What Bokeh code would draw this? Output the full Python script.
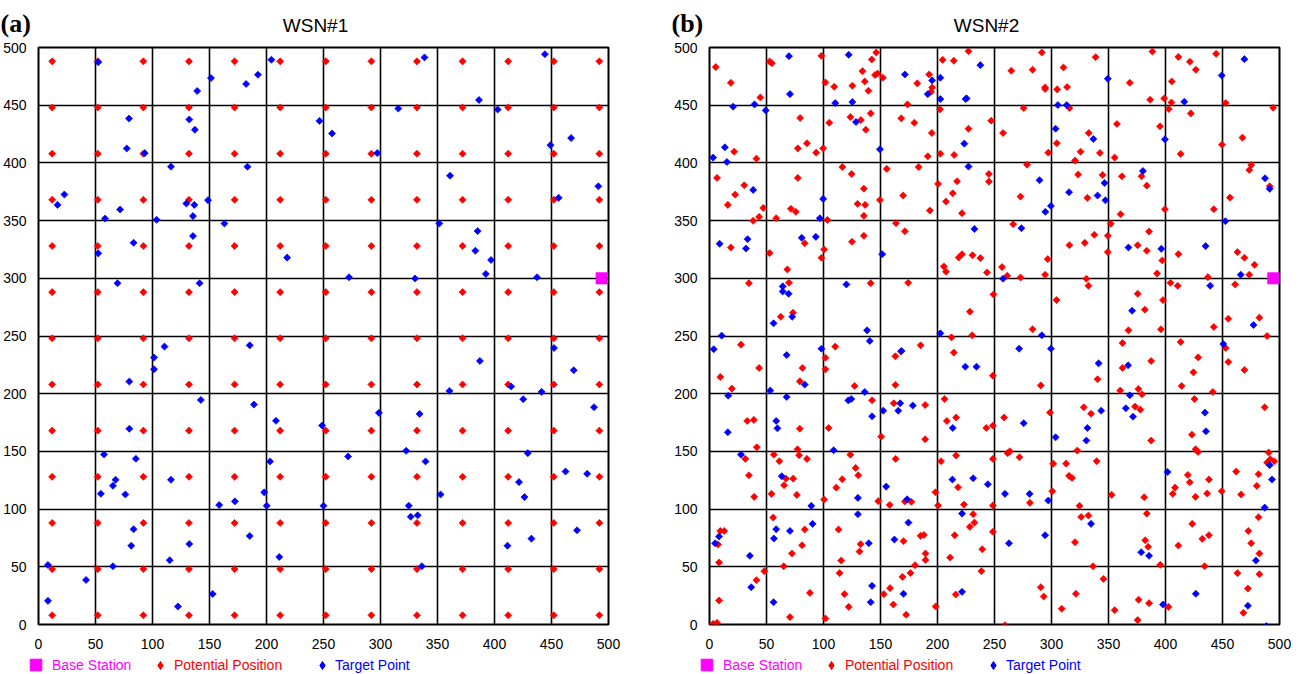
import math
from bokeh.plotting import figure
from bokeh.models import Range1d, Legend, LegendItem, Label, FixedTicker
from bokeh.layouts import row, column
from bokeh.embed import file_html
from bokeh.resources import INLINE

# ---------------- data ----------------
ticks = [0, 50, 100, 150, 200, 250, 300, 350, 400, 450, 500]
titles = ["WSN#1", "WSN#2"]
tags = ["(a)", "(b)"]
legend_labels = ["Base Station", "Potential Position", "Target Point"]

base_station_1 = (494, 300)
base_station_2 = (494.5, 300)

# WSN#1: potential positions form a regular lattice
grid_x = [12, 52, 92, 132, 172, 212, 252, 292, 332, 372, 412, 452, 492]
grid_y = [8, 48, 88, 128, 168, 208, 248, 288, 328, 368, 408, 448, 488]

wsn1_targets = [
    (52.4, 487.3), (204.3, 489.4), (151.3, 473.5), (139.2, 462.3), (192.5, 476.4), (182.1, 468.4),
    (79.4, 438.4), (132.3, 437.6), (137.2, 428.7), (77.4, 412.5), (93.2, 408.5), (246.5, 436.4),
    (257.5, 425.5), (116.2, 396.7), (183.3, 396.7), (22.7, 372.6), (16.7, 363.6), (129.7, 364.8),
    (136.7, 363.6), (148.7, 367.7), (71.6, 359.6), (58.4, 351.8), (103.6, 350.7), (135.5, 353.9),
    (163.1, 347.5), (135.5, 336.6), (83.4, 330.8), (52.4, 321.6), (218.1, 317.9), (69.3, 295.7),
    (141.3, 295.7),
    (338.6, 491.4), (444.2, 494.2), (386.4, 454.5), (315.6, 447.1), (402.8, 446.2), (297.2, 408.5),
    (449.1, 415.4), (467.2, 421.5), (361.0, 388.9), (491.1, 379.7), (456.3, 369.7), (351.6, 347.5),
    (385.2, 340.9), (383.2, 323.9), (397.0, 315.9), (392.4, 303.8), (272.4, 300.9), (330.3, 299.8),
    (437.3, 300.9),
    (110.5, 240.8), (101.3, 231.3), (101.3, 221.2), (79.7, 210.5), (185.3, 241.9), (142.4, 194.6),
    (189.0, 190.6), (208.3, 176.5), (248.8, 172.4), (79.7, 169.6), (57.5, 147.3), (85.4, 143.6),
    (67.6, 125.4), (65.3, 120.2), (54.7, 113.3), (76.2, 112.7), (116.2, 125.4), (203.1, 141.3),
    (198.0, 114.5), (158.5, 103.5), (172.3, 106.7), (200.2, 102.9), (250.0, 102.9), (83.4, 82.5),
    (81.4, 68.3), (132.3, 69.8), (185.3, 76.7), (115.1, 55.7), (211.2, 58.5), (8.3, 51.6),
    (65.3, 50.5), (41.7, 38.6), (8.3, 20.5), (152.8, 26.5), (122.3, 15.6),
    (452.2, 239.6), (387.2, 228.4), (469.5, 220.3), (414.6, 206.2), (360.5, 202.4), (441.3, 201.6),
    (425.2, 195.2), (487.3, 188.3), (298.6, 183.4), (334.3, 182.5), (271.6, 145.6), (322.5, 150.5),
    (339.5, 141.3), (429.2, 148.5), (462.3, 132.6), (481.3, 130.6), (421.5, 123.4), (426.3, 110.4),
    (352.7, 112.7), (324.8, 102.9), (326.5, 93.4), (332.6, 94.6), (472.4, 81.6), (432.4, 74.4),
    (411.4, 68.3), (336.3, 50.5),
]

wsn2_potential = [
    (5.5, 483), (18.7, 469.4), (44.6, 456.7), (52.7, 487.9), (54.7, 486.4), (98.2, 492.8), (101.7, 469.7),
    (109.4, 466), (125.3, 466.8), (134.2, 479.5), (136.2, 470.6), (139.4, 462.5), (142.3, 489.6),
    (146.3, 495.7), (145.2, 476.1), (147.5, 477.5), (152.1, 473.8), (182.3, 468.9), (192.7, 476.6),
    (195.3, 465.4), (194.4, 461.6), (204.5, 489.3), (214.3, 488.5), (227.2, 496.8),
    (79.5, 438.9), (173.7, 450.7), (202.2, 446.4), (105.1, 434.8), (123.6, 439.7), (132.8, 437.1),
    (141.4, 442.9), (137.1, 428.8), (168.2, 438.6), (179.7, 434.8), (195, 425.9), (227.2, 429.6),
    (247.1, 436.6), (77.5, 412.6), (85.5, 417), (93.6, 408.9), (99.7, 412.6), (21.6, 409.7),
    (41.2, 403.7), (191.5, 405.7), (202.5, 408), (214.6, 406.9),
    (6.6, 387), (30.5, 380.6), (22.5, 372.5), (16.1, 363.6), (47.2, 361), (43.5, 353.2), (38.3, 349.8),
    (58.5, 352.1), (77.5, 387), (71.4, 360.2), (75.7, 357.6), (116.6, 396.5), (124.7, 390.4),
    (135.4, 377.7), (129.9, 364.5), (136.5, 363.6), (135.4, 354.1), (149.5, 367.9), (155.5, 394.8),
    (169.9, 371.7), (183.5, 396.5), (193.3, 358.7), (200.5, 381.8), (207.4, 366.5), (213.4, 373.7),
    (217.2, 384.1), (221.5, 356.4), (245.1, 390.4), (245.1, 383.8), (103.4, 350.6),
    (18.7, 326.7), (52.7, 321.8), (68.3, 307.7), (83.5, 330.4), (100.5, 325), (98.2, 317.8),
    (125, 331.6), (135.4, 336.8), (163.6, 347.8), (171.4, 340.8), (205.6, 310.3), (207.4, 305.7),
    (218.6, 318), (221.5, 320.9), (230.7, 320), (237.6, 317.5), (243.4, 305.1),
    (34.6, 295.8), (69.7, 296.1), (62.5, 266.7), (73.2, 270.2), (141.4, 295.8), (174.3, 296.1),
    (249.1, 286), (228.4, 271), (212.3, 248.8), (230.4, 250.6),
    (27.6, 242.5), (43.5, 222.3), (9.5, 214.5), (19.6, 204.4), (110.3, 240.8), (101.7, 231.2),
    (101.7, 221.1), (81.5, 222.3), (79.2, 210.7), (127.3, 206.7), (163, 232.4), (167.9, 236.7),
    (163, 207.6), (185.2, 241.9), (214.3, 235.6), (248.6, 215.6),
    (33.1, 176.4), (38.9, 177.3), (41.5, 153.6), (79.2, 169.7), (77.2, 151.8), (104.5, 170.3),
    (142.6, 194.3), (161.6, 191.7), (189.2, 190.2), (150.6, 162.8), (189.2, 160.5), (206.2, 195.4),
    (208.2, 176.4), (216.3, 179.3), (242.8, 170.3), (248.6, 172.3),
    (31.4, 143.5), (34.6, 129.3), (39.2, 110.6), (56.5, 147.2), (61.3, 141.5), (67.1, 126.4),
    (65.4, 120.7), (73.4, 126.4), (54.4, 113.2), (76.6, 112.3), (78.6, 146.7), (85.5, 143.5),
    (100.5, 108.3), (123.6, 147.2), (128.2, 135.7), (130.5, 129.3), (116.4, 125.9), (111.2, 118.6),
    (148, 106.9), (158.1, 103.6), (163.3, 143.5), (171.4, 106.6), (177.1, 106.3), (198.2, 114.6),
    (200.5, 103.1), (203.1, 141.5), (216.3, 146.4), (218, 118.9), (223.2, 103.9), (248.6, 143.5),
    (248.6, 103.1),
    (9.5, 81.1), (12.9, 81.1), (7.5, 69.3), (8.4, 53.7), (55.9, 92.7), (83.5, 82.3), (81.2, 68.7),
    (72.3, 61.5), (65.1, 50.5), (113.2, 82.3), (132.5, 69.6), (131.6, 63.2), (115.5, 55.4),
    (170.2, 72.2), (185.2, 76.8), (188.1, 77.6), (189.5, 61.5), (189.5, 56), (180.3, 51.4),
    (215.1, 77.4), (211.1, 58), (231.3, 95.6), (232.4, 88.3), (228.4, 84.6), (239.3, 65.2),
    (248.6, 80.3),
    (48.1, 46.2), (41.2, 38.4), (8.4, 20.8), (3.2, 0.6), (6.6, 1.4), (88.1, 27.4), (70.6, 6.4),
    (101.7, 5.2), (114.1, 44.5), (118.4, 26.3), (122.1, 15.3), (152.9, 26.3), (158.4, 31.5),
    (161.3, 17.3), (169.3, 41.3), (176.3, 44.7), (172.5, 8.4), (198.4, 15.6), (216, 26), (238.5, 46.2),
    (291.5, 495.7), (264.7, 479.8), (283.4, 480.7), (294.4, 465.4), (294.4, 464), (305, 463.7),
    (310.5, 482.7), (313.7, 465.7), (338.7, 491.6), (368.7, 469.4), (388.5, 496.5), (386.5, 454.7),
    (398.9, 455.9), (405.2, 452.4), (402.9, 446.7), (405.5, 470.6), (411.3, 491.9), (421.4, 487.6),
    (426.6, 480.7), (444.4, 494.5), (452.8, 451.8),
    (275.6, 447.5), (315.7, 447.5), (257.5, 425.9), (332.7, 425.9), (304.7, 417), (297.2, 408.9),
    (325.5, 409.7), (342.5, 408.6), (320.6, 402), (355.4, 404.6), (357.4, 433.7), (395.2, 431.7),
    (422.2, 442.9), (413.3, 407.7), (449.6, 415.8), (467.5, 421.9), (494.5, 447.8),
    (278.5, 398.5), (272.8, 370.8), (323.4, 389.9), (344.8, 389.6), (331.5, 369.7), (360.6, 355.5),
    (361.8, 388.4), (379, 388.4), (383.6, 380.3), (399.5, 359.9), (442.4, 359.9), (456.5, 369.9),
    (475.2, 398.2), (473.5, 393.9), (491.4, 379.8),
    (266.4, 346.9), (315.7, 328.7), (329.2, 330.7), (337.6, 337.7), (349.4, 336.8), (352, 347.2),
    (349.4, 322.7), (296.7, 316.6), (256.6, 309.7), (261.2, 302.2), (272.8, 300.7), (294.4, 303),
    (375.6, 328.7), (383.6, 323.8), (385.6, 340.5), (397.2, 315.5), (392.6, 304.2), (411.3, 320.9),
    (463.1, 322.7), (469.2, 317.8), (478.1, 311.7), (473.5, 303.1), (437.2, 301),
    (330.6, 299.6), (332.4, 293.5), (304.4, 281.1), (283.4, 255.8), (375.6, 286.6), (381.9, 272.8),
    (397.8, 281.1), (396, 255.8), (367.5, 254.9), (404.4, 296.1), (410.7, 293.5), (461.1, 294.7),
    (455.1, 265), (482.4, 265.9), (442.4, 257.8), (489.1, 250),
    (290.6, 207.2), (340.4, 212.5), (362.3, 243.9), (362.3, 222.3), (387.4, 228.3), (360.3, 202.7),
    (376.2, 204.1), (379.4, 199.5), (413.3, 244.8), (428.6, 231.5), (424.5, 218.5), (414.2, 206.7),
    (441.5, 201.5), (452.8, 239.6), (455.1, 227.5), (469.2, 220.6),
    (258.4, 179.3), (298.7, 183.7), (328.3, 188.2), (334.7, 182.7), (322.6, 150.7), (373.3, 188.8),
    (377.9, 186.2), (387.4, 159.4), (425.4, 195.4), (423.2, 164.5), (426.4, 151.8), (428.6, 149.5),
    (487, 188.2), (490.5, 149),
    (261.5, 148.4), (263.5, 150.1), (271.9, 144.9), (301.6, 139.4), (312.8, 139.4), (315.4, 128.8),
    (318, 127), (339.6, 141.5), (300.7, 115.5), (281.1, 105.4), (324.6, 102.8), (352.8, 112.3),
    (381.3, 110.3), (419.6, 129.6), (421.3, 123.3), (438.1, 125.6), (408.4, 118.6), (406.4, 113.2),
    (426.3, 110.6), (436.6, 113.5), (449.3, 115.5), (462, 132.5), (466.3, 112.6), (481.6, 130.2),
    (480.1, 120.1), (489.1, 140.3), (491.9, 143.2), (495.3, 141.5), (502.6, 127.6),
    (326, 93.2), (332.4, 94.4), (320.6, 71.3), (336.4, 50.5), (383.6, 96.1), (382.2, 73), (384.8, 67.3),
    (395.4, 51.7), (423.4, 87.2), (432.3, 74.2), (438.1, 77.4), (411.3, 68.4), (434.3, 50.5),
    (481.6, 93), (472.6, 81.1), (475.2, 70.4), (482.4, 61.5),
    (290.6, 32.3), (293.2, 24.2), (309, 13.6), (321.4, 26.6), (345.6, 39.5), (355.4, 12.4),
    (376.4, 21.4), (385.6, 18.5), (375.6, 3.8), (402.6, 15.3), (463.1, 44.5), (482.4, 43.6),
    (472.3, 31.2), (468.3, 10.1), (259.2, -0.6),
]

wsn2_targets = [
    (69.7, 492.5), (70.6, 459.6), (122.1, 493.7), (171.4, 476.6), (191.5, 459.6), (195.3, 471.5),
    (202.5, 473.8), (202.5, 455.3), (224.7, 455.3), (225.5, 455.9), (237.6, 484.7), (110.3, 451.8),
    (125.3, 452.7), (39.5, 450.7), (20.7, 448.7), (49.3, 445.5),
    (128.5, 435.4), (13.5, 413.5), (3.2, 404.6), (15.3, 400.8), (149.5, 411.8), (223.5, 416.7),
    (38.3, 376.6), (99.7, 368.8), (96.8, 352.1), (227.2, 396.8),
    (8.9, 329.9), (33.4, 333.9), (32, 325.8), (80.9, 335.1), (93.3, 335.9), (151.5, 320.9), (232.4, 342.8),
    (64.2, 293), (64.2, 288.6), (69.4, 286.6), (72.6, 266.7), (56.2, 261), (120.1, 294.7), (138.2, 254.9),
    (10.7, 250.3), (202.5, 252.3),
    (3.7, 238.5), (67.7, 233.5), (98.2, 239), (140.6, 245.7), (83.5, 207.9), (53.3, 202.7),
    (136.2, 201.5), (168.5, 237), (224.4, 223.4), (234.2, 223.4),
    (16.4, 198.3), (16.1, 166.6), (58.5, 176.4), (59.6, 170), (67.7, 197.2), (121.8, 194.2),
    (124.4, 195.4), (142.6, 180.4), (152.4, 185.3), (165.6, 185.3), (167.3, 191.7), (178.3, 189.7),
    (213.4, 170.3), (108.9, 151),
    (27.6, 147.2), (63.4, 128.5), (89.3, 102.8), (130.2, 109.7), (155, 119.5), (173.4, 108.5),
    (213.1, 125.6), (231.3, 126.7), (244.2, 121.5),
    (8.4, 76.2), (4.9, 70.4), (35.4, 59.5), (58.5, 82.6), (56.5, 74.5), (70.6, 81.1), (90.4, 87.2),
    (130.2, 95.6), (139.7, 70.4), (174.5, 88.3), (162.2, 73.6), (221.5, 96.1),
    (36.6, 32.3), (56.2, 19.3), (142.6, 33.5), (141.4, 19.3), (170.2, 26.6), (221.5, 28.3),
    (349.4, 472.9), (305.6, 450.1), (313.4, 450.1), (416.5, 453), (449.3, 475.8), (469.2, 489.9),
    (303.6, 429.6), (336.7, 420.7), (399.5, 420.4),
    (289.5, 385), (315.4, 374.6), (346.5, 382.6), (340.4, 371.7), (347.3, 367.6), (299.5, 362.7),
    (294.6, 357.6), (380.2, 393), (487.3, 386.7), (491.4, 377.5),
    (273.6, 343.4), (367.5, 326.7), (396.3, 325.5), (435.2, 327.9), (452.5, 349.5), (466, 303.1),
    (257.5, 299.6),
    (370.7, 271.9), (439.2, 293.5), (477.2, 259.5), (291.5, 250.6),
    (271.6, 239), (299.5, 239), (341.3, 226.3), (367.2, 224.6), (450.7, 243.1), (368.7, 198.6),
    (275.6, 174.4), (303.6, 162.2), (331.5, 170.3), (330.6, 159.4), (343.6, 185.3), (365.2, 187.4),
    (371.5, 180.1), (434.6, 183.6), (435.5, 167.4),
    (259.2, 113.2), (280.8, 113.2), (297.2, 107.4), (401.8, 132.2), (491.4, 138), (493.4, 125.6),
    (487, 101.3),
    (262.7, 70.4), (294.4, 77.4), (334.7, 87.2), (378.7, 62.6), (385.6, 59.5), (479.3, 55.4),
    (397.8, 17.3), (426.6, 26.6), (472.3, 16.2), (488.5, -1.4),
]

wsn1_potential = [(gx, gy) for gy in grid_y for gx in grid_x]

RED = "#FF0000"
BLUE = "#0000FF"
MAGENTA = "#FF00FF"
FONT = "Liberation Sans"

# ---------------- layout constants (pixels) ----------------
FRAME = 578
LEFT_B = 30
P1_RIGHT_B = 63
P2_RIGHT_B = 12
TOP_B = 8
BOTTOM_B = 26
HEADER_H = 39
STRIP_H = 22
LEG_MID = 8.5   # legend centre, measured up from the strip's bottom edge
P1_W = LEFT_B + FRAME + P1_RIGHT_B
P2_W = LEFT_B + FRAME + P2_RIGHT_B
TOTAL_W = P1_W + P2_W
PANEL_SHIFT = P1_W  # horizontal offset of the second panel


def make_panel(potential, targets, base, border_right, width):
    p = figure(width=width, height=TOP_B + FRAME + BOTTOM_B,
               x_range=Range1d(0, 500), y_range=Range1d(0, 500),
               output_backend="svg", toolbar_location=None,
               min_border_left=LEFT_B, min_border_right=border_right,
               min_border_top=TOP_B, min_border_bottom=BOTTOM_B,
               background_fill_color="white", border_fill_color="white")
    for ax in (p.xaxis[0], p.yaxis[0]):
        ax.ticker = FixedTicker(ticks=ticks)
        ax.major_tick_line_color = None
        ax.minor_tick_line_color = None
        ax.axis_line_color = None
        ax.major_label_text_font = FONT
        ax.major_label_text_font_size = "14px"
        ax.major_label_text_color = "black"
    p.xaxis.major_label_standoff = 8
    p.yaxis.major_label_standoff = 6
    p.grid.grid_line_color = "black"
    p.grid.grid_line_width = 1.6
    p.outline_line_color = "black"
    p.outline_line_width = 2

    px = [a for a, b in potential]
    py = [b for a, b in potential]
    tx = [a for a, b in targets]
    ty = [b for a, b in targets]
    p.scatter(px, py, marker="square", angle=math.pi / 4, size=5,
              fill_color=RED, line_color=RED, line_width=0.7)
    p.scatter(tx, ty, marker="square", angle=math.pi / 4, size=5,
              fill_color=BLUE, line_color=BLUE, line_width=0.7)
    p.scatter([base[0]], [base[1]], marker="square", size=11.5,
              fill_color=MAGENTA, line_color=MAGENTA, line_width=0.5)
    return p


p1 = make_panel(wsn1_potential, wsn1_targets, base_station_1, P1_RIGHT_B, P1_W)
p2 = make_panel(wsn2_potential, wsn2_targets, base_station_2, P2_RIGHT_B, P2_W)

# ---------------- header strip: panel tags and titles ----------------
header = figure(width=TOTAL_W, height=HEADER_H, x_range=Range1d(0, TOTAL_W),
                y_range=Range1d(0, HEADER_H), x_axis_type=None, y_axis_type=None,
                output_backend="svg", toolbar_location=None, min_border=0,
                outline_line_color=None, background_fill_color="white",
                border_fill_color="white")
for k in range(2):
    off = k * PANEL_SHIFT
    header.add_layout(Label(x=off + 0, y=HEADER_H - 23, text=tags[k], text_align="left",
                            text_baseline="middle", text_font="Liberation Serif",
                            text_font_style="bold", text_font_size="26px", text_color="black"))
    header.add_layout(Label(x=off + LEFT_B + FRAME / 2 - 4, y=HEADER_H - 25, text=titles[k],
                            text_align="center", text_baseline="middle", text_font=FONT,
                            text_font_size="19px", text_color="black"))

# ---------------- legend strip ----------------
strip = figure(width=TOTAL_W, height=STRIP_H, x_range=Range1d(0, TOTAL_W),
               y_range=Range1d(0, STRIP_H), x_axis_type=None, y_axis_type=None,
               output_backend="svg", toolbar_location=None, min_border=0,
               outline_line_color=None, background_fill_color="white",
               border_fill_color="white")
bs_leg = strip.scatter([-1000], [-1000], marker="square", size=11.5, fill_color=MAGENTA, line_color=MAGENTA)
red_leg = strip.scatter([-1000], [-1000], marker="diamond", size=8, fill_color=RED, line_color=RED)
blue_leg = strip.scatter([-1000], [-1000], marker="diamond", size=8, fill_color=BLUE, line_color=BLUE)


def add_leg(label, r, color, loc, box, standoff):
    leg = Legend(items=[LegendItem(label=label, renderers=[r])], location=loc,
                 orientation="horizontal", glyph_width=box, glyph_height=box,
                 label_height=box, label_standoff=standoff, padding=0, margin=0,
                 spacing=0, border_line_color=None, background_fill_alpha=0,
                 label_text_color=color, label_text_font=FONT,
                 label_text_font_size="14px")
    strip.add_layout(leg)


for k in range(2):
    off = k * PANEL_SHIFT
    add_leg(legend_labels[0], bs_leg, MAGENTA, (off + 21, LEG_MID - 14.5), 29, 2)
    add_leg(legend_labels[1], red_leg, RED, (off + 150, LEG_MID - 10), 20, 4)
    add_leg(legend_labels[2], blue_leg, BLUE, (off + 312, LEG_MID - 10), 20, 3)

layout = column(header, row(p1, p2), strip)
open("out.html", "w").write(file_html(layout, INLINE))
